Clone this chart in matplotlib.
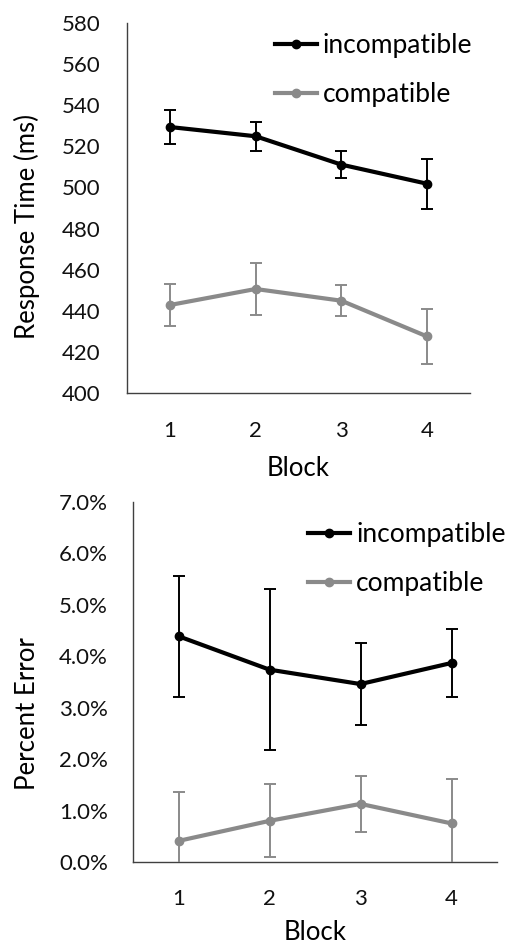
import matplotlib
matplotlib.use("Agg")
import matplotlib.pyplot as plt
from matplotlib.ticker import FixedLocator, FuncFormatter

plt.rcParams['font.family'] = ['Lato', 'DejaVu Sans']

blocks = [1, 2, 3, 4]
block_labels = ["1", "2", "3", "4"]

rt_incompatible = [529.4, 524.9, 511.1, 501.8]
rt_incompatible_err = [8.5, 7.0, 6.6, 12.1]
rt_compatible = [442.8, 450.6, 444.9, 427.5]
rt_compatible_err = [10.0, 12.6, 7.6, 13.6]

err_incompatible = [4.39, 3.74, 3.46, 3.87]
err_incompatible_err = [1.18, 1.57, 0.80, 0.67]
err_compatible = [0.41, 0.80, 1.13, 0.75]
err_compatible_err = [0.96, 0.71, 0.54, 0.87]

rt_ticks = [400, 420, 440, 460, 480, 500, 520, 540, 560, 580]
pe_ticks = [0, 1, 2, 3, 4, 5, 6, 7]

BLACK = "#000000"
GRAY = "#8a8a8a"
SPINE = "#404040"
TICK_FS = 16
LABEL_FS = 18.5
LEG_FS = 19

W, H = 513, 946
fig = plt.figure(figsize=(W / 100, H / 100), dpi=100)

def px_axes(l, r, t, b):
    return fig.add_axes([l / W, 1 - b / H, (r - l) / W, (b - t) / H])

ax1 = px_axes(127, 470, 23, 393)
ax2 = px_axes(133, 497, 502, 862)

def style(ax, ypad, xpad):
    for s in ["top", "right"]:
        ax.spines[s].set_visible(False)
    for s in ["left", "bottom"]:
        ax.spines[s].set_color(SPINE)
        ax.spines[s].set_linewidth(1.0)
    ax.tick_params(axis="both", length=0, labelsize=TICK_FS, colors="#111111")
    ax.tick_params(axis="y", pad=ypad)
    ax.tick_params(axis="x", pad=xpad)
    ax.set_xlim(0.5, 4.5)
    ax.set_xticks(blocks)
    ax.set_xticklabels(block_labels)

def plot_series(ax, y, e, color, label):
    ax.errorbar(blocks, y, yerr=e, color=color, lw=3.0, marker="o", ms=6,
                ecolor=color, elinewidth=1.4, capsize=4.5, capthick=1.4,
                label=label, zorder=3)

style(ax1, 19, 20)
plot_series(ax1, rt_incompatible, rt_incompatible_err, BLACK, "incompatible")
plot_series(ax1, rt_compatible, rt_compatible_err, GRAY, "compatible")
ax1.set_ylim(400, 580)
ax1.yaxis.set_major_locator(FixedLocator(rt_ticks))
ax1.set_ylabel("Response Time (ms)", fontsize=LABEL_FS)
ax1.set_xlabel("Block", fontsize=LABEL_FS)
ax1.yaxis.set_label_coords(-0.254, 0.449)
ax1.xaxis.set_label_coords(0.5, -0.171)

style(ax2, 18, 19.5)
plot_series(ax2, err_incompatible, err_incompatible_err, BLACK, "incompatible")
plot_series(ax2, err_compatible, err_compatible_err, GRAY, "compatible")
ax2.set_ylim(0, 7)
ax2.yaxis.set_major_locator(FixedLocator(pe_ticks))
ax2.yaxis.set_major_formatter(FuncFormatter(lambda v, p: f"{v:.1f}%"))
ax2.set_ylabel("Percent Error", fontsize=LABEL_FS)
ax2.set_xlabel("Block", fontsize=LABEL_FS)
ax2.yaxis.set_label_coords(-0.255, 0.411)
ax2.xaxis.set_label_coords(0.5, -0.162)

def add_legend(ax, x, y):
    h, l = ax.get_legend_handles_labels()
    h = [hh[0] for hh in h]
    ax.legend(h, l, loc="upper left", bbox_to_anchor=(x, y), frameon=False,
              fontsize=LEG_FS, handlelength=1.6, handletextpad=0.22,
              labelspacing=0.9, borderpad=0, borderaxespad=0)

add_legend(ax1, 0.431, 0.972)
add_legend(ax2, 0.481, 0.944)

fig.savefig("out.png", dpi=100)
